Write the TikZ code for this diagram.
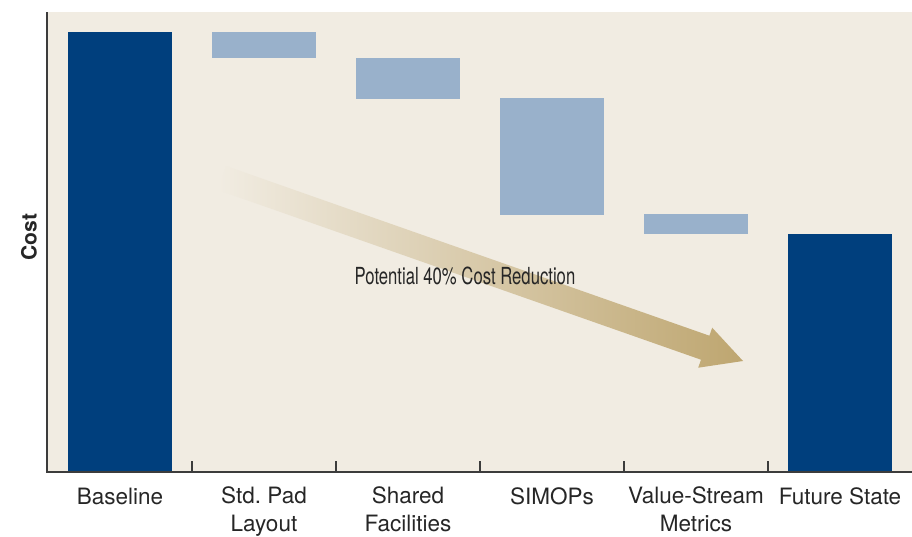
\documentclass[tikz,border=0pt]{standalone}
\usepackage{fontspec}
\setmainfont{TeX Gyre Heros}
\newfontfamily\narrowfont[FakeStretch=0.71]{TeX Gyre Heros}
\definecolor{paper}{RGB}{241,236,226}
\definecolor{darkbar}{RGB}{0,63,125}
\definecolor{stepbar}{RGB}{153,177,203}
\definecolor{tanarrow}{RGB}{190,166,112}
\definecolor{axisgray}{RGB}{60,60,60}
\begin{document}
\begin{tikzpicture}
      [x=1pt, y=-1pt,
      every node/.style={inner sep=0pt, align=center, text=black!85},
      catlabel/.style={font=\fontsize{22.5}{28}\selectfont, anchor=base},
      axisline/.style={draw=axisgray, line width=1.6pt},
      ]
      \useasboundingbox (0,0) rectangle (912,536);
      \fill[paper] (48,12) rectangle (912,472);
      \foreach \xl/\yt/\yb/\c in {68/32/472/darkbar, 212/32/58/stepbar,
        356/58/99/stepbar, 500/98/215/stepbar, 644/214/234/stepbar,
        788/234/472/darkbar}
        \fill[\c] (\xl,\yt) rectangle (\xl+104,\yb);
      \shade[left color=paper, right color=tanarrow]
        (226.2,166.0) -- (709.4,335.7) -- (712.2,327.7) -- (743,361)
        -- (698.2,367.7) -- (701.0,359.7) -- (217.8,190.0) -- cycle;
      \node (reduction) [anchor=base, font=\narrowfont\fontsize{23.5}{28}\selectfont]
        at (465,284) {Potential 40\% Cost Reduction};
      \draw[axisline] (47,12) -- (47,472) -- (912,472);
      \foreach \xt in {192,336,480,624,768}
        \draw[axisline] (\xt,472) -- (\xt,461);
      \node (cost) [rotate=90, font=\bfseries\fontsize{21}{25}\selectfont] at (29,237) {Cost};
      \node (baseline) [catlabel] at (120,504) {Baseline};
      \node (stdpad) [catlabel] at (264,531) {Std.\ Pad\\Layout};
      \node (shared) [catlabel] at (408,531) {Shared\\Facilities};
      \node (simops) [catlabel] at (552,504) {SIMOPs};
      \node (valuestream) [catlabel] at (696,531) {Value-Stream\\Metrics};
      \node (future) [catlabel] at (840,504) {Future State};
      \end{tikzpicture}
\end{document}
